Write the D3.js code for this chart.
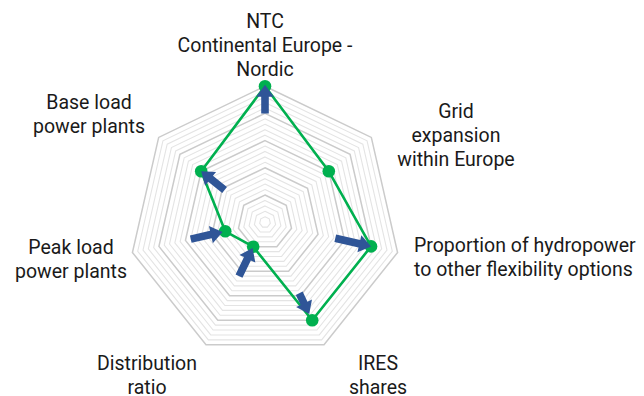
<!DOCTYPE html>
<html>
<head>
<meta charset="utf-8">
<script src="https://cdn.jsdelivr.net/npm/d3@7"></script>
<style>
  html, body { margin: 0; padding: 0; background: #fff; }
  svg text { font-family: Roboto, "Noto Sans", sans-serif; fill: #1a1a1a; }
</style>
</head>
<body>
<svg id="chart" width="644" height="396"></svg>
<script>
// Axis labels (one entry per axis, clockwise from the top), split into lines
const axisLabels = [
  ["NTC", "Continental Europe -", "Nordic"],
  ["Grid", "expansion", "within Europe"],
  ["Proportion of hydropower", "to other flexibility options"],
  ["IRES", "shares"],
  ["Distribution", "ratio"],
  ["Peak load", "power plants"],
  ["Base load", "power plants"]
];
// Current value on each axis (green polygon)
const values = [5, 3, 4, 4, 1, 1.5, 3];
// Direction of change: arrow tail and tip values per axis (null = no arrow)
const arrowFrom = [4, null, 2.65, 2.9, 2.2, 2.8, 1.9];
const arrowTo   = [5.05, null, 4, 3.75, 1.05, 1.6, 3];
// Grid: major levels and minor rings per level
const maxValue = 5;
const minorPerMajor = 5;

const svg = d3.select("#chart");
const cx = 265, cy = 222.2, R = 136;
const n = axisLabels.length;

const r = d3.scaleLinear().domain([0, maxValue]).range([0, R]);
const angle = d3.scaleLinear().domain([0, n]).range([0, 2 * Math.PI]);

const pt = (i, v) => {
  const a = angle(i);
  return [cx + r(v) * Math.sin(a), cy - r(v) * Math.cos(a)];
};

const g = svg.append("g");

// concentric heptagon grid
const ringLine = d3.line();
const ringValues = d3.range(1, maxValue * minorPerMajor + 1).map(k => k / minorPerMajor);
g.append("g").selectAll("path")
  .data(ringValues)
  .join("path")
  .attr("d", v => ringLine(d3.range(n).map(i => pt(i, v))) + "Z")
  .attr("fill", "none")
  .attr("stroke", (v, k) => ((k + 1) % minorPerMajor === 0) ? "#cbcbcb" : "#e4e4e4")
  .attr("stroke-width", (v, k) => ((k + 1) % minorPerMajor === 0) ? 1.5 : 1.1);

// value polygon
g.append("path")
  .attr("d", ringLine(values.map((v, i) => pt(i, v))) + "Z")
  .attr("fill", "none")
  .attr("stroke", "#00b04f")
  .attr("stroke-width", 2.6)
  .attr("stroke-linejoin", "round");

g.append("g").selectAll("circle")
  .data(values)
  .join("circle")
  .attr("cx", (v, i) => pt(i, v)[0])
  .attr("cy", (v, i) => pt(i, v)[1])
  .attr("r", 6.3)
  .attr("fill", "#00b04f");

// arrows showing the direction of change
const shaftW = 3.8, headW = 8.8, headL = 12;
const arrows = d3.range(n).filter(i => arrowFrom[i] !== null).map(i => ({
  from: pt(i, arrowFrom[i]),
  to: pt(i, arrowTo[i])
}));
g.append("g").selectAll("path")
  .data(arrows)
  .join("path")
  .attr("d", d => {
    const dx = d.to[0] - d.from[0], dy = d.to[1] - d.from[1];
    const len = Math.hypot(dx, dy);
    const ux = dx / len, uy = dy / len, px = -uy, py = ux;
    const b = [d.to[0] - ux * headL, d.to[1] - uy * headL];
    const P = (p, s) => [p[0] + px * s, p[1] + py * s];
    const pts = [P(d.from, shaftW), P(b, shaftW), P(b, headW), d.to,
                 P(b, -headW), P(b, -shaftW), P(d.from, -shaftW)];
    return d3.line()(pts) + "Z";
  })
  .attr("fill", "#2f5597");

// axis labels
const fontSize = 19.5, lineH = 24;
const labelLayout = [
  { x: 265, y: 45, anchor: "middle" },
  { x: 456, y: 135, anchor: "middle" },
  { x: 414, y: 257, anchor: "start" },
  { x: 378, y: 375, anchor: "middle" },
  { x: 147, y: 375, anchor: "middle" },
  { x: 71, y: 259, anchor: "middle" },
  { x: 89, y: 114, anchor: "middle" }
];
const labels = svg.append("g").selectAll("text")
  .data(axisLabels)
  .join("text")
  .attr("font-size", fontSize)
  .attr("text-anchor", (d, i) => labelLayout[i].anchor);
labels.each(function (lines, i) {
  const L = labelLayout[i];
  const y0 = L.y - (lines.length - 1) * lineH / 2;
  d3.select(this).selectAll("tspan")
    .data(lines)
    .join("tspan")
    .attr("x", L.x)
    .attr("y", (t, j) => y0 + j * lineH + 7)
    .text(t => t);
});
</script>
</body>
</html>
